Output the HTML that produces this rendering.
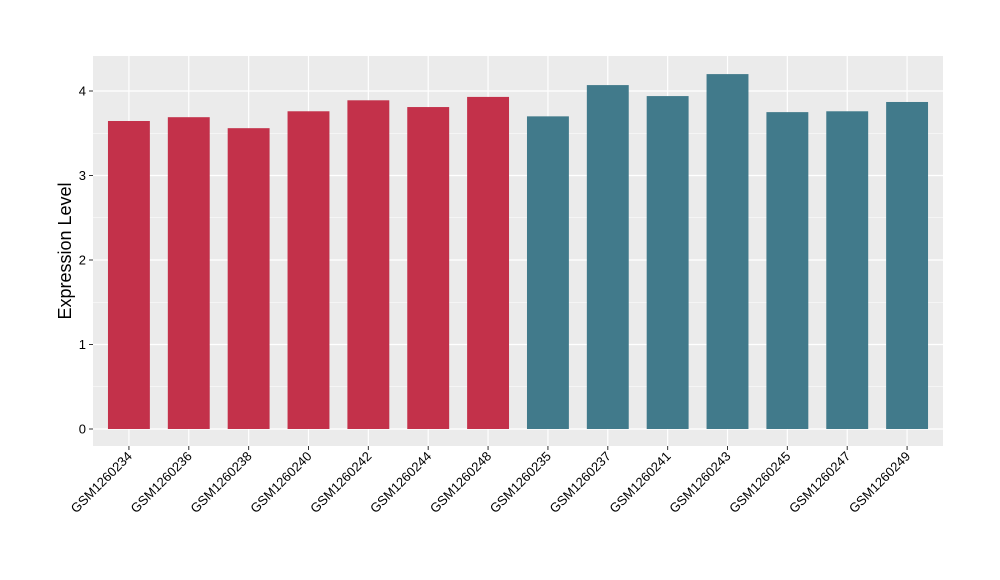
<!DOCTYPE html>
<html><head><meta charset="utf-8"><style>
body{margin:0;background:#fff;}
svg{display:block;font-family:"Liberation Sans",sans-serif;}
</style></head><body>
<svg id="chart" width="1000" height="580"></svg>
<script>
const categories=["GSM1260234","GSM1260236","GSM1260238","GSM1260240","GSM1260242","GSM1260244","GSM1260248","GSM1260235","GSM1260237","GSM1260241","GSM1260243","GSM1260245","GSM1260247","GSM1260249"];
const values=[3.645,3.69,3.56,3.76,3.89,3.81,3.93,3.70,4.07,3.94,4.20,3.75,3.76,3.87];
const groups=["a","a","a","a","a","a","a","b","b","b","b","b","b","b"];
const yTicks=[0,1,2,3,4];
const colors={a:"#C3314A",b:"#417A8B"};
const NS="http://www.w3.org/2000/svg";
const svg=document.getElementById('chart');
const L=93,R=943,T=56,B=446;
const y0=429,pxPerUnit=84.5;
const yScale=v=>y0-v*pxPerUnit;
const step=(R-L)/(categories.length-1+1.2);
const xScale=i=>L+(0.6+i)*step;
function mk(tag,attrs,parent){const e=document.createElementNS(NS,tag);for(const k in attrs)e.setAttribute(k,attrs[k]);(parent||svg).appendChild(e);return e;}
const panel=mk('rect',{x:L,y:T,width:R-L,height:B-T,fill:'#EBEBEB'});


// minor grid
for(let i=0;i<yTicks.length-1;i++){const v=(yTicks[i]+yTicks[i+1])/2;
 const g=mk('line',{x1:L,x2:R,y1:yScale(v),y2:yScale(v),stroke:'#fff','stroke-width':0.6});
 
 }
yTicks.forEach(v=>{
 const g=mk('line',{x1:L,x2:R,y1:yScale(v),y2:yScale(v),stroke:'#fff','stroke-width':1.2});
 
 
 const t=mk('line',{x1:L-4,x2:L,y1:yScale(v),y2:yScale(v),stroke:'#333','stroke-width':1});
 
 
 const tx=mk('text',{x:L-7,y:yScale(v)+4.5,'text-anchor':'end','font-size':13,fill:'#000'});
 tx.textContent=v;
 
 
});
categories.forEach((c,i)=>{
 const x=xScale(i);
 const g=mk('line',{x1:x,x2:x,y1:T,y2:B,stroke:'#fff','stroke-width':1.2});
 
 
});
categories.forEach((c,i)=>{
 const x=xScale(i),w=step*0.7;
 const b=mk('rect',{x:x-w/2,y:yScale(values[i]),width:w,height:yScale(0)-yScale(values[i]),fill:colors[groups[i]]});
 
 
 const t=mk('line',{x1:x,x2:x,y1:B,y2:B+4,stroke:'#333','stroke-width':1});
 
 
 const tx=mk('text',{x:0,y:0,'text-anchor':'end','font-size':13,fill:'#000',transform:`translate(${x+4},${B+11}) rotate(-45)`});
 tx.textContent=c;
 
 
});
const yt=mk('text',{x:0,y:0,'text-anchor':'middle','font-size':18,fill:'#000',transform:`translate(71,${(T+B)/2}) rotate(-90)`});
yt.textContent='Expression Level';


</script>
</body></html>
